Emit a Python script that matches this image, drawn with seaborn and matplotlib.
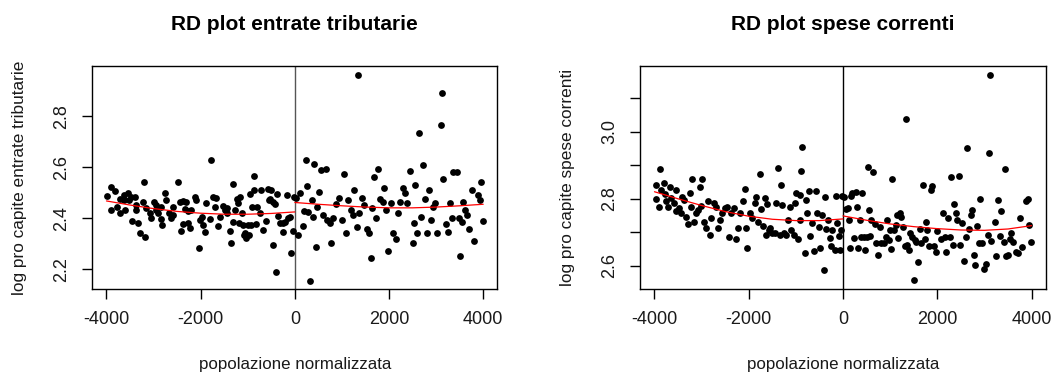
import numpy as np
import pandas as pd
import matplotlib
matplotlib.use("Agg")
import matplotlib.pyplot as plt
from matplotlib.ticker import FixedLocator, FixedFormatter
import seaborn as sns

# ---- data: normalised population vs log per-capita tax revenue ----
entrate_x = [
    -3986, -3901, -3823, -3908, -3774, -3717, -3632, -3540, -3703, -3611, -3469, -3398,
    -3448, -3328, -3278, -3186, -3207, -3221, -3151, -3363, -3080, -3044, -2995, -2938,
    -2903, -2839, -2811, -2761, -2726, -2669, -2627, -2584, -2478, -2443, -2407, -2372,
    -2336, -2301, -2266, -2216, -2124, -2089, -2039, -2018, -1947, -1912, -1876, -1805,
    -1770, -1735, -1678, -1628, -1593, -1522, -1487, -1430, -1381, -1366, -1310, -1274,
    -1225, -1182, -1168, -1112, -1062, -1027, -991, -956, -920, -871, -828, -814,
    -743, -673, -616, -566, -517, -496, -474, -460, -418, -404, -375, -354,
    -319, -262, -212, -177, -142, -106, -71, -35, -20,
    -3632, -3519, -3377, -2938, -2832, -2584, -2372, -2266, -2195, -1982, -1699, -1451,
    -1310, -1204, -1097, -1076, -977, -935, -864, -708, -552, -248,
    21, 71, 106, 163, 191, 234, 262, 283, 319, 354, 389, 404,
    439, 474, 517, 552, 602, 658, 687, 743, 765, 814, 871, 942,
    991, 1041, 1083, 1133, 1182, 1239, 1253, 1310, 1345, 1366, 1416, 1466,
    1522, 1579, 1607, 1628, 1678, 1720, 1770, 1805, 1862, 1890, 1933, 1982,
    2032, 2089, 2145, 2195, 2230, 2301, 2336, 2372, 2443, 2499, 2528, 2549,
    2584, 2641, 2669, 2726, 2761, 2811, 2853, 2882, 2938, 2974, 3009, 3094,
    3122, 3151, 3207, 3257, 3292, 3328, 3363, 3434, 3490, 3505, 3540, 3575,
    3611, 3660, 3703, 3752, 3802, 3894, 3929, 3944, 4000,
]
entrate_y = [
    2.488, 2.524, 2.508, 2.433, 2.446, 2.475, 2.491, 2.498, 2.422, 2.433, 2.485, 2.482,
    2.391, 2.383, 2.344, 2.325, 2.541, 2.464, 2.439, 2.452, 2.420, 2.400, 2.465, 2.452,
    2.420, 2.397, 2.374, 2.501, 2.472, 2.420, 2.400, 2.446, 2.541, 2.465, 2.352, 2.378,
    2.435, 2.465, 2.383, 2.361, 2.485, 2.472, 2.282, 2.393, 2.374, 2.348, 2.461, 2.396,
    2.629, 2.485, 2.478, 2.370, 2.407, 2.448, 2.433, 2.420, 2.352, 2.305, 2.533, 2.433,
    2.475, 2.383, 2.485, 2.420, 2.341, 2.322, 2.374, 2.495, 2.443, 2.567, 2.378, 2.446,
    2.420, 2.354, 2.391, 2.514, 2.475, 2.511, 2.295, 2.465, 2.456, 2.191, 2.495, 2.409,
    2.380, 2.348, 2.387, 2.492, 2.400, 2.404, 2.265, 2.352, 2.485,
    2.472, 2.472, 2.433, 2.433, 2.446, 2.413, 2.469, 2.430, 2.433, 2.407, 2.446, 2.439,
    2.387, 2.461, 2.374, 2.335, 2.335, 2.374, 2.511, 2.511, 2.472, 2.380,
    2.478, 2.335, 2.498, 2.370, 2.430, 2.629, 2.527, 2.426, 2.156, 2.472, 2.404, 2.612,
    2.286, 2.446, 2.505, 2.590, 2.413, 2.592, 2.393, 2.383, 2.305, 2.400, 2.456, 2.478,
    2.393, 2.574, 2.341, 2.472, 2.433, 2.413, 2.511, 2.367, 2.962, 2.420, 2.478, 2.452,
    2.357, 2.341, 2.243, 2.439, 2.563, 2.400, 2.592, 2.475, 2.465, 2.518, 2.433, 2.273,
    2.459, 2.341, 2.318, 2.420, 2.465, 2.518, 2.498, 2.461, 2.587, 2.302, 2.383, 2.531,
    2.344, 2.736, 2.407, 2.607, 2.475, 2.341, 2.511, 2.393, 2.443, 2.459, 2.341, 2.766,
    2.893, 2.554, 2.378, 2.348, 2.459, 2.400, 2.580, 2.582, 2.400, 2.252, 2.387, 2.465,
    2.433, 2.413, 2.357, 2.511, 2.312, 2.492, 2.472, 2.541, 2.391,
]

# ---- data: normalised population vs log per-capita current spending ----
spese_x = [
    -3972, -3887, -3958, -3901, -3852, -3802, -3781, -3746, -3710, -3661, -3640, -3590,
    -3548, -3534, -3477, -3428, -3406, -3378, -3336, -3286, -3251, -3215, -3194, -3166,
    -3124, -3074, -3025, -3003, -2982, -2954, -2897, -2862, -2813, -2791, -2742, -2685,
    -2650, -2615, -2558, -2509, -2459, -2417, -2367, -2318, -2276, -2226, -2177, -2120,
    -2085, -2049, -2035, -1979, -1922, -1873, -1837, -1802, -1753, -1731, -1696, -1661,
    -1640, -1611, -1569, -1541, -1498, -1449, -1413, -1378, -1343, -1307, -1286, -1258,
    -1216, -1166, -1131, -1095, -1046, -1011, -989, -954, -919, -905, -883, -862,
    -813, -792, -763, -721, -693, -650, -622, -579, -551, -509, -481, -452,
    -410, -389, -353, -318, -283, -247, -226, -177, -141, -127, -85, -57, -35, -14,
    14, 57, 106, 127, 155, 177, 198, 226, 269, 297, 318, 353,
    389, 410, 438, 459, 509, 530, 551, 580, 601, 636, 671, 707,
    742, 777, 813, 862, 905, 933, 975, 1004, 1025, 1046, 1074, 1117,
    1145, 1166, 1201, 1237, 1272, 1307, 1343, 1357, 1399, 1428, 1470, 1498,
    1519, 1555, 1590, 1625, 1661, 1696, 1731, 1753, 1781, 1823, 1873, 1894,
    1922, 1965, 1993, 2085, 2120, 2155, 2191, 2226, 2276, 2297, 2332, 2353,
    2389, 2417, 2459, 2488, 2530, 2558, 2601, 2629, 2671, 2721, 2742, 2770,
    2791, 2841, 2883, 2912, 2954, 2982, 3025, 3074, 3095, 3124, 3145, 3216,
    3251, 3286, 3321, 3357, 3406, 3428, 3449, 3498, 3534, 3569, 3604, 3661,
    3710, 3746, 3802, 3887, 3922, 3936, 3993,
]
spese_y = [
    2.841, 2.889, 2.799, 2.775, 2.826, 2.846, 2.814, 2.792, 2.777, 2.836, 2.801, 2.787,
    2.826, 2.765, 2.772, 2.757, 2.806, 2.796, 2.747, 2.725, 2.816, 2.777, 2.859, 2.732,
    2.757, 2.767, 2.834, 2.779, 2.859, 2.732, 2.712, 2.792, 2.692, 2.742, 2.787, 2.777,
    2.712, 2.737, 2.757, 2.772, 2.777, 2.687, 2.757, 2.772, 2.679, 2.712, 2.757, 2.792,
    2.828, 2.712, 2.653, 2.757, 2.742, 2.787, 2.804, 2.732, 2.873, 2.769, 2.719, 2.801,
    2.692, 2.785, 2.707, 2.712, 2.697, 2.697, 2.787, 2.893, 2.692, 2.841, 2.782, 2.697,
    2.692, 2.737, 2.777, 2.707, 2.692, 2.787, 2.818, 2.679, 2.737, 2.811, 2.883, 2.955,
    2.638, 2.795, 2.757, 2.824, 2.689, 2.729, 2.643, 2.824, 2.759, 2.717, 2.653, 2.752,
    2.588, 2.806, 2.709, 2.737, 2.682, 2.660, 2.707, 2.646, 2.808, 2.729, 2.689, 2.646, 2.707, 2.808,
    2.806, 2.769, 2.772, 2.737, 2.653, 2.808, 2.816, 2.682, 2.821, 2.775, 2.653, 2.737,
    2.687, 2.816, 2.687, 2.648, 2.687, 2.896, 2.767, 2.689, 2.737, 2.879, 2.725, 2.667,
    2.633, 2.717, 2.667, 2.667, 2.687, 2.737, 2.677, 2.707, 2.650, 2.859, 2.707, 2.722,
    2.752, 2.682, 2.757, 2.747, 2.717, 2.660, 3.038, 2.663, 2.646, 2.697, 2.687, 2.558,
    2.677, 2.672, 2.613, 2.709, 2.667, 2.841, 2.679, 2.732, 2.707, 2.658, 2.826, 2.839,
    2.658, 2.640, 2.705, 2.679, 2.759, 2.685, 2.640, 2.742, 2.685, 2.866, 2.663, 2.785,
    2.757, 2.737, 2.869, 2.663, 2.727, 2.616, 2.685, 2.952, 2.709, 2.752, 2.767, 2.633,
    2.603, 2.719, 2.667, 2.800, 2.667, 2.590, 2.606, 2.692, 2.937, 3.169, 2.675, 2.732,
    2.630, 2.797, 2.689, 2.765, 2.672, 2.889, 2.630, 2.633, 2.679, 2.697, 2.672, 2.640,
    2.638, 2.742, 2.656, 2.792, 2.799, 2.722, 2.672,
]

# ---- smoothed fits on each side of the cutoff ----
fit_left_x = [-4000, -3500, -3000, -2500, -2000, -1500, -1000, -500, 0]
fit_right_x = [0, 500, 1000, 1500, 2000, 2500, 3000, 3500, 4000]
entrate_fit_left = [2.468, 2.452, 2.438, 2.427, 2.420, 2.416, 2.416, 2.419, 2.425]
entrate_fit_right = [2.462, 2.455, 2.449, 2.444, 2.441, 2.441, 2.444, 2.449, 2.455]
spese_fit_left = [2.821, 2.800, 2.780, 2.762, 2.748, 2.739, 2.735, 2.735, 2.740]
spese_fit_right = [2.749, 2.736, 2.725, 2.717, 2.711, 2.707, 2.706, 2.710, 2.720]

titles = ["RD plot entrate tributarie", "RD plot spese correnti"]
ylabels = ["log pro capite entrate tributarie", "log pro capite spese correnti"]
xlabel = "popolazione normalizzata"
x_ticks = [-4000, -2000, 0, 2000, 4000]

sns.set_theme(style="white")
plt.rcParams["font.family"] = ["Liberation Sans", "DejaVu Sans"]
plt.rcParams["axes.edgecolor"] = "black"
plt.rcParams["axes.linewidth"] = 1.0

fig = plt.figure(figsize=(10.53, 3.72), dpi=100)
ax1 = fig.add_axes([0.0877, 0.2239, 0.3846, 0.598])
ax2 = fig.add_axes([0.6081, 0.2239, 0.3850, 0.598])

panels = [
    (ax1, entrate_x, entrate_y, entrate_fit_left, entrate_fit_right, (2.124, 2.996),
     [2.2, 2.4, 2.6, 2.8], ["2.2", "2.4", "2.6", "2.8"], "#555555"),
    (ax2, spese_x, spese_y, spese_fit_left, spese_fit_right, (2.532, 3.195),
     [2.6, 2.7, 2.8, 2.9, 3.0, 3.1], ["2.6", "", "2.8", "", "3.0", ""], "black"),
]

for i, (ax, xs, ys, fl, fr, ylim, yt, ytl, vcol) in enumerate(panels):
    df = pd.DataFrame({"x": xs, "y": ys})
    sns.scatterplot(data=df, x="x", y="y", ax=ax, color="black", s=24,
                    linewidth=0, zorder=3)
    sns.lineplot(x=fit_left_x, y=fl, ax=ax, color="red", linewidth=0.9, zorder=4)
    sns.lineplot(x=fit_right_x, y=fr, ax=ax, color="red", linewidth=0.9, zorder=4)
    ax.axvline(0, color=vcol, linewidth=1.0, zorder=2)

    ax.set_xlim(-4300, 4300)
    ax.set_ylim(*ylim)
    ax.set_xticks(x_ticks)
    ax.set_xticklabels([str(t) for t in x_ticks])
    ax.yaxis.set_major_locator(FixedLocator(yt))
    ax.yaxis.set_major_formatter(FixedFormatter(ytl))

    ax.tick_params(axis="both", which="major", direction="out", length=7, width=1,
                   color="black", labelsize=13, labelcolor="#1a1a1a", bottom=True, left=True)
    ax.tick_params(axis="x", pad=9)
    ax.tick_params(axis="y", pad=9, labelrotation=90)
    for lab in ax.get_yticklabels():
        lab.set_va("center")

    for sp in ax.spines.values():
        sp.set_visible(True)
        sp.set_color("black")
        sp.set_linewidth(1.0)

    ax.set_title(titles[i], fontsize=15, fontweight="bold", pad=26, color="black")
    ax.set_xlabel(xlabel, fontsize=12.2, labelpad=21, color="#1a1a1a")
    ax.set_ylabel(ylabels[i], fontsize=12.4, labelpad=19, color="#1a1a1a")

fig.savefig("out.png", dpi=100, facecolor="white")
